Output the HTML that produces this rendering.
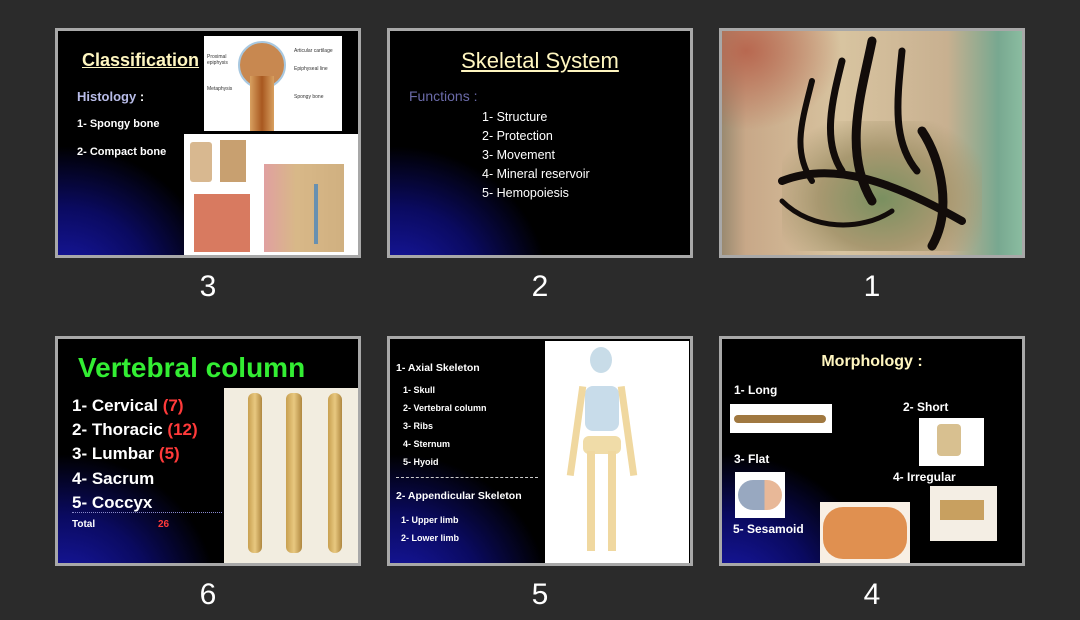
<!DOCTYPE html>
<html><head><meta charset="utf-8"><style>
*{margin:0;padding:0;box-sizing:border-box}
body{width:1080px;height:620px;background:#2b2b2b;position:relative;overflow:hidden;font-family:"Liberation Sans",sans-serif}
.s{position:absolute;width:306px;height:230px;border:3px solid #a8a8a8;background:#000;overflow:hidden}
.glow{position:absolute;left:-60px;bottom:-70px;width:220px;height:180px;background:radial-gradient(ellipse at 30% 80%,#1a1ab0 0%,#0a0a60 40%,rgba(0,0,0,0) 70%)}
.t{position:absolute;white-space:nowrap}
.n{position:absolute;color:#fff;font-size:30px;width:60px;text-align:center}
.img{position:absolute;background:#fff}
</style></head><body>

<!-- Slide 3 -->
<div class="s" style="left:55px;top:28px">
 <div class="glow"></div>
 <div class="t" style="left:24px;top:19px;font-size:18px;font-weight:bold;color:#fff6c0;text-decoration:underline">Classification</div>
 <div class="t" style="left:19px;top:58px;font-size:13px;font-weight:bold;color:#b8bce8">Histology <span style="color:#fff">:</span></div>
 <div class="t" style="left:19px;top:87px;font-size:11px;font-weight:bold;color:#fff">1- Spongy bone</div>
 <div class="t" style="left:19px;top:115px;font-size:11px;font-weight:bold;color:#fff">2- Compact bone</div>
 <div class="img" style="left:146px;top:5px;width:138px;height:95px">
  <div style="position:absolute;left:34px;top:5px;width:48px;height:48px;border-radius:50%;background:#c88850;border:2px solid #a8c8e0"></div>
  <div style="position:absolute;left:46px;top:40px;width:24px;height:55px;background:linear-gradient(90deg,#d8a060,#a85820,#d8a060)"></div>
  <div class="t" style="left:3px;top:18px;font-size:5px;color:#333">Proximal<br>epiphysis</div>
  <div class="t" style="left:3px;top:50px;font-size:5px;color:#333">Metaphysis</div>
  <div class="t" style="left:90px;top:12px;font-size:5px;color:#333">Articular cartilage</div>
  <div class="t" style="left:90px;top:30px;font-size:5px;color:#333">Epiphyseal line</div>
  <div class="t" style="left:90px;top:58px;font-size:5px;color:#333">Spongy bone</div>
 </div>
 <div class="img" style="left:126px;top:103px;width:174px;height:121px">
  <div style="position:absolute;left:6px;top:8px;width:22px;height:40px;background:#d8b890;border-radius:3px"></div>
  <div style="position:absolute;left:36px;top:6px;width:26px;height:42px;background:#c8a070"></div>
  <div style="position:absolute;left:10px;top:60px;width:56px;height:58px;background:#d87a60"></div>
  <div style="position:absolute;left:80px;top:30px;width:80px;height:88px;background:linear-gradient(90deg,#e0a0a0 0%,#d8b888 40%,#d0b080 100%)"></div>
  <div style="position:absolute;left:130px;top:50px;width:4px;height:60px;background:#6890b0"></div>
 </div>
</div>
<div class="n" style="left:178px;top:270px">3</div>

<!-- Slide 2 -->
<div class="s" style="left:387px;top:28px">
 <div class="glow"></div>
 <div class="t" style="left:0;width:300px;text-align:center;top:17px;font-size:22px;color:#fff6c0;text-decoration:underline">Skeletal System</div>
 <div class="t" style="left:19px;top:57px;font-size:14px;color:#6a6aa8">Functions :</div>
 <div class="t" style="left:92px;top:77px;font-size:12.5px;color:#fff;line-height:19px">1- Structure<br>2- Protection<br>3- Movement<br>4- Mineral reservoir<br>5- Hemopoiesis</div>
</div>
<div class="n" style="left:510px;top:270px">2</div>

<!-- Slide 1 -->
<div class="s" style="left:719px;top:28px;background:linear-gradient(90deg,#9a8a70 0%,#c8a888 8%,#d8c4a0 40%,#c8b090 75%,#78a890 92%,#8abca0 100%)">
 <div style="position:absolute;left:0;top:0;width:120px;height:100px;background:radial-gradient(ellipse at 20% 20%,#b86850 0%,rgba(0,0,0,0) 70%)"></div>
 <div style="position:absolute;left:60px;top:90px;width:200px;height:130px;background:radial-gradient(ellipse at 50% 60%,#7a9060 0%,#a89870 45%,rgba(0,0,0,0) 80%)"></div>
 <svg width="300" height="224" style="position:absolute;left:0;top:0">
  <g fill="none" stroke="#120c0a" stroke-linecap="round">
   <path d="M150 10 C140 60 120 120 150 170" stroke-width="9"/>
   <path d="M120 30 C110 70 100 110 120 140" stroke-width="7"/>
   <path d="M90 50 C80 90 70 120 90 150" stroke-width="6"/>
   <path d="M180 20 C175 70 170 110 195 140" stroke-width="7"/>
   <path d="M60 150 C110 130 170 150 240 190" stroke-width="8"/>
   <path d="M200 100 C220 130 230 180 210 215" stroke-width="9"/>
   <path d="M60 170 C90 200 140 200 170 180" stroke-width="5"/>
  </g>
 </svg>
</div>
<div class="n" style="left:842px;top:270px">1</div>

<!-- Slide 6 -->
<div class="s" style="left:55px;top:336px">
 <div class="glow"></div>
 <div class="t" style="left:20px;top:13px;font-size:28px;font-weight:bold;color:#33ee33">Vertebral column</div>
 <div class="t" style="left:14px;top:55px;font-size:17px;font-weight:bold;color:#fff;line-height:24.2px">1- Cervical <span style="color:#ff3a3a">(7)</span><br>2- Thoracic <span style="color:#ff3a3a">(12)</span><br>3- Lumbar <span style="color:#ff3a3a">(5)</span><br>4- Sacrum<br>5- Coccyx</div>
 <div style="position:absolute;left:14px;top:173px;width:150px;border-top:1px dotted #8888cc"></div>
 <div class="t" style="left:14px;top:180px;font-size:10px;font-weight:bold;color:#fff">Total</div>
 <div class="t" style="left:100px;top:180px;font-size:10px;font-weight:bold;color:#ff3a3a">26</div>
 <div class="img" style="left:166px;top:49px;width:134px;height:175px;background:#f2ede0">
  <div style="position:absolute;left:24px;top:5px;width:14px;height:160px;background:linear-gradient(90deg,#c8a050,#e8c880,#b08840);border-radius:6px"></div>
  <div style="position:absolute;left:62px;top:5px;width:16px;height:160px;background:linear-gradient(90deg,#c8a050,#e8c880,#b08840);border-radius:6px"></div>
  <div style="position:absolute;left:104px;top:5px;width:14px;height:160px;background:linear-gradient(90deg,#c8a050,#e8c880,#b08840);border-radius:8px"></div>
 </div>
</div>
<div class="n" style="left:178px;top:578px">6</div>

<!-- Slide 5 -->
<div class="s" style="left:387px;top:336px">
 <div class="glow"></div>
 <div class="t" style="left:6px;top:23px;font-size:10.5px;font-weight:bold;color:#fff">1- Axial Skeleton</div>
 <div class="t" style="left:13px;top:42px;font-size:9px;font-weight:bold;color:#fff;line-height:18px">1- Skull<br>2- Vertebral column<br>3- Ribs<br>4- Sternum<br>5- Hyoid</div>
 <div style="position:absolute;left:6px;top:138px;width:142px;border-top:1px dashed #ccc"></div>
 <div class="t" style="left:6px;top:151px;font-size:10.5px;font-weight:bold;color:#fff">2- Appendicular Skeleton</div>
 <div class="t" style="left:11px;top:172px;font-size:9px;font-weight:bold;color:#fff;line-height:18px">1- Upper limb<br>2- Lower limb</div>
 <div class="img" style="left:155px;top:2px;width:144px;height:222px">
  <div style="position:absolute;left:45px;top:6px;width:22px;height:26px;border-radius:50%;background:#c8dce8"></div>
  <div style="position:absolute;left:40px;top:45px;width:34px;height:45px;background:#c8dcea;border-radius:8px"></div>
  <div style="position:absolute;left:38px;top:95px;width:38px;height:18px;background:#f0dca8;border-radius:6px"></div>
  <div style="position:absolute;left:42px;top:110px;width:8px;height:100px;background:#f0d8a0"></div>
  <div style="position:absolute;left:63px;top:110px;width:8px;height:100px;background:#f0d8a0"></div>
  <div style="position:absolute;left:28px;top:45px;width:7px;height:90px;background:#f0d8a0;transform:rotate(8deg)"></div>
  <div style="position:absolute;left:79px;top:45px;width:7px;height:90px;background:#f0d8a0;transform:rotate(-8deg)"></div>
 </div>
</div>
<div class="n" style="left:510px;top:578px">5</div>

<!-- Slide 4 -->
<div class="s" style="left:719px;top:336px">
 <div class="glow"></div>
 <div class="t" style="left:0;width:300px;text-align:center;top:14px;font-size:16px;font-weight:bold;color:#fff6c0">Morphology :</div>
 <div class="t" style="left:12px;top:44px;font-size:12px;font-weight:bold;color:#fff">1- Long</div>
 <div class="img" style="left:8px;top:65px;width:102px;height:29px"><div style="position:absolute;left:4px;top:11px;width:92px;height:8px;border-radius:4px;background:#a07840"></div></div>
 <div class="t" style="left:181px;top:61px;font-size:12px;font-weight:bold;color:#fff">2- Short</div>
 <div class="img" style="left:197px;top:79px;width:65px;height:48px"><div style="position:absolute;left:18px;top:6px;width:24px;height:32px;background:#d8c090;border-radius:4px"></div></div>
 <div class="t" style="left:12px;top:113px;font-size:12px;font-weight:bold;color:#fff">3- Flat</div>
 <div class="img" style="left:13px;top:133px;width:50px;height:46px"><div style="position:absolute;left:3px;top:8px;width:44px;height:30px;border-radius:15px;background:linear-gradient(90deg,#98a8c0 60%,#e8b898 60%)"></div></div>
 <div class="t" style="left:171px;top:131px;font-size:12px;font-weight:bold;color:#fff">4- Irregular</div>
 <div class="img" style="left:208px;top:147px;width:67px;height:55px;background:#f4eee4"><div style="position:absolute;left:10px;top:14px;width:44px;height:20px;background:#c8a060"></div></div>
 <div class="t" style="left:11px;top:183px;font-size:12px;font-weight:bold;color:#fff">5- Sesamoid</div>
 <div class="img" style="left:98px;top:163px;width:90px;height:61px;background:#f8efe4"><div style="position:absolute;left:3px;top:5px;width:84px;height:52px;border-radius:20px;background:#e09050"></div></div>
</div>
<div class="n" style="left:842px;top:578px">4</div>

</body></html>
